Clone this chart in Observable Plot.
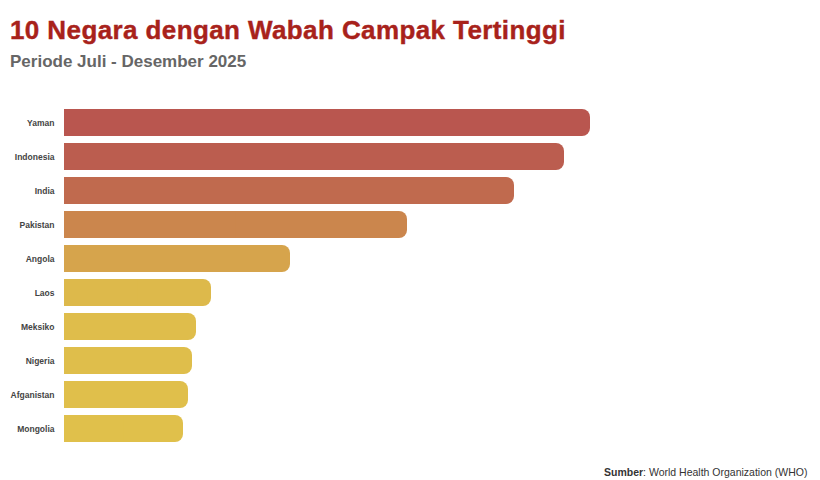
<!DOCTYPE html>
<html>
<head>
<meta charset="utf-8">
<script src="https://cdn.jsdelivr.net/npm/d3@7"></script>
<script src="https://cdn.jsdelivr.net/npm/@observablehq/plot@0.6"></script>
<style>
  html, body { margin: 0; padding: 0; background: #fff; width: 820px; height: 480px; overflow: hidden; font-family: "Liberation Sans", Arial, sans-serif; }
  #title { position: absolute; left: 10px; top: 15px; font-size: 26px; font-weight: bold; letter-spacing: 0.4px; -webkit-text-stroke: 0.4px #a8221b; color: #a8221b; white-space: nowrap; }
  #subtitle { position: absolute; left: 10px; top: 52px; font-size: 17px; font-weight: bold; color: #666; white-space: nowrap; }
  #chart { position: absolute; left: 0; top: 90px; }
  #source { position: absolute; left: 604px; top: 466px; font-size: 10.5px; color: #333; white-space: nowrap; }
</style>
</head>
<body>
<div id="title">10 Negara dengan Wabah Campak Tertinggi</div>
<div id="subtitle">Periode Juli - Desember 2025</div>
<div id="chart"></div>
<div id="source"><b>Sumber</b>: World Health Organization (WHO)</div>
<script>
const countries = ["Yaman", "Indonesia", "India", "Pakistan", "Angola", "Laos", "Meksiko", "Nigeria", "Afganistan", "Mongolia"];
const cases = [15780, 15000, 13500, 10290, 6780, 4410, 3960, 3840, 3720, 3570];

const data = countries.map((c, i) => ({country: c, value: cases[i]}));

const plot = Plot.plot({
  width: 820,
  height: 372,
  marginTop: 10,
  marginBottom: 10,
  marginLeft: 64,
  marginRight: 230,
  style: {fontFamily: "'Liberation Sans', Arial, sans-serif", background: "transparent"},
  x: {domain: [0, d3.max(cases)], axis: null},
  y: {domain: countries, padding: 0.2, label: null, tickSize: 0, tickPadding: 10},
  color: {type: "linear", domain: [d3.min(cases), d3.max(cases)], range: ["#e0c04b", "#b9564f"]},
  marks: [
    Plot.barX(data, {y: "country", x: "value", fill: "value", rx: 8}),
    Plot.barX(data, {y: "country", x1: 0, x2: d => d.value * 0.5, fill: "value"}),
    Plot.axisY({tickSize: 0, tickPadding: 10, fontSize: 8.5, fontWeight: "bold", fill: "#444", label: null})
  ]
});
document.getElementById("chart").appendChild(plot);
</script>
</body>
</html>
